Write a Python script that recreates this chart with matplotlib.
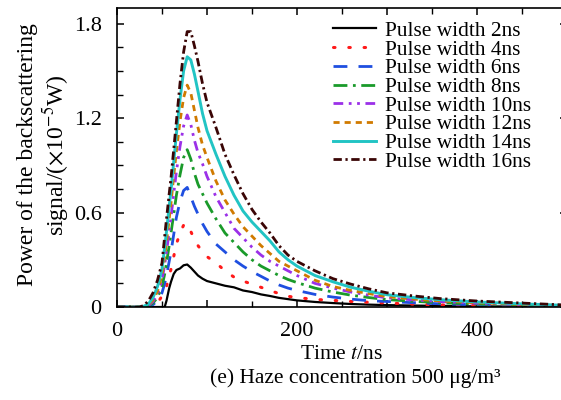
import numpy as np
import matplotlib
matplotlib.use('Agg')
import matplotlib.pyplot as plt
from matplotlib.ticker import MultipleLocator, FixedLocator, FuncFormatter

plt.rcParams['font.family'] = ['Liberation Serif', 'DejaVu Serif']
plt.rcParams['mathtext.fontset'] = 'stix'

# time axis (ns) and backscatter power (x1e-5 W)
t = [0, 25, 30, 35, 40, 45, 50, 53, 55, 58, 60, 63, 66, 70, 74, 78, 82, 86, 90, 95,
     100, 110, 120, 130, 140, 150, 160, 170, 180, 190, 200, 220, 240, 260, 280, 300,
     330, 360, 400, 450, 500]

p2 = [0, 0, 0, 0, 0, 0, 0, 0.0, 0.04, 0.12, 0.16, 0.21, 0.235, 0.245, 0.265, 0.27, 0.25, 0.225, 0.20, 0.18,
      0.165, 0.15, 0.135, 0.125, 0.105, 0.095, 0.08, 0.07, 0.058, 0.05, 0.042, 0.032, 0.025, 0.019, 0.015, 0.012,
      0.009, 0.007, 0.004, 0.003, 0.002]
p4 = [0, 0, 0, 0.002, 0.008, 0.025, 0.07, 0.1, 0.13, 0.2, 0.24, 0.32, 0.40, 0.47, 0.52, 0.53, 0.48, 0.43, 0.39, 0.35,
      0.32, 0.28, 0.23, 0.19, 0.165, 0.145, 0.125, 0.105, 0.085, 0.068, 0.06, 0.048, 0.042, 0.035, 0.03, 0.025,
      0.018, 0.013, 0.009, 0.005, 0.003]
p6 = [0, 0, 0.001, 0.004, 0.015, 0.04, 0.09, 0.15, 0.2, 0.29, 0.35, 0.46, 0.57, 0.67, 0.74, 0.76, 0.70, 0.64, 0.59, 0.53,
      0.48, 0.40, 0.35, 0.30, 0.26, 0.225, 0.195, 0.165, 0.14, 0.12, 0.105, 0.08, 0.063, 0.05, 0.04, 0.035,
      0.027, 0.02, 0.014, 0.009, 0.004]
p8 = [0, 0, 0.001, 0.006, 0.025, 0.06, 0.13, 0.21, 0.28, 0.39, 0.47, 0.59, 0.71, 0.84, 0.95, 1.0, 0.94, 0.85, 0.78, 0.72,
      0.66, 0.56, 0.47, 0.41, 0.35, 0.30, 0.26, 0.23, 0.20, 0.175, 0.155, 0.12, 0.095, 0.075, 0.06, 0.047,
      0.036, 0.027, 0.019, 0.012, 0.006]
p10 = [0, 0, 0.002, 0.01, 0.035, 0.08, 0.17, 0.27, 0.35, 0.48, 0.57, 0.72, 0.86, 1.02, 1.15, 1.22, 1.16, 1.06, 0.98, 0.91,
       0.83, 0.70, 0.60, 0.50, 0.44, 0.38, 0.33, 0.29, 0.26, 0.23, 0.20, 0.15, 0.12, 0.095, 0.075, 0.058,
       0.045, 0.034, 0.024, 0.015, 0.007]
p12 = [0, 0, 0.003, 0.015, 0.045, 0.1, 0.2, 0.32, 0.41, 0.56, 0.66, 0.83, 0.99, 1.18, 1.33, 1.41, 1.36, 1.25, 1.14, 1.03,
       0.95, 0.80, 0.68, 0.59, 0.51, 0.45, 0.39, 0.34, 0.29, 0.26, 0.23, 0.17, 0.13, 0.105, 0.085, 0.066,
       0.05, 0.038, 0.027, 0.017, 0.008]
p14 = [0, 0, 0.005, 0.02, 0.06, 0.13, 0.24, 0.38, 0.48, 0.64, 0.74, 0.92, 1.10, 1.32, 1.50, 1.59, 1.57, 1.48, 1.37, 1.23,
       1.12, 0.97, 0.83, 0.71, 0.61, 0.54, 0.48, 0.42, 0.35, 0.30, 0.26, 0.20, 0.16, 0.125, 0.10, 0.078,
       0.06, 0.046, 0.032, 0.02, 0.01]
p16 = [0, 0, 0.01, 0.04, 0.09, 0.17, 0.28, 0.45, 0.56, 0.72, 0.82, 1.0, 1.18, 1.42, 1.62, 1.75, 1.75, 1.66, 1.56, 1.42,
       1.30, 1.14, 0.97, 0.84, 0.72, 0.62, 0.54, 0.47, 0.39, 0.33, 0.29, 0.23, 0.18, 0.145, 0.115, 0.09,
       0.07, 0.053, 0.038, 0.025, 0.012]

labels = ['Pulse width 2ns', 'Pulse width 4ns', 'Pulse width 6ns', 'Pulse width 8ns',
          'Pulse width 10ns', 'Pulse width 12ns', 'Pulse width 14ns', 'Pulse width 16ns']
series = [p2, p4, p6, p8, p10, p12, p14, p16]
colors = ['black', '#ff1a1a', '#1f4fe0', '#1a9a2a', '#9b30e8', '#d07a00', '#22c4c4', '#3a0505']
styles = ['-', (0, (0.5, 4.5)), (0, (5, 4)), (0, (5, 2, 1, 2)), (0, (3.5, 2, 1, 2, 1, 2)),
          (0, (2.2, 1.8)), '-', (0, (3, 1.3, 0.8, 1.3))]
widths = [1.6, 2.2, 2.0, 2.0, 2.0, 2.0, 2.1, 2.0]

fig = plt.figure(figsize=(5.61, 4.0), dpi=100)
ax = fig.add_axes([117 / 561, 93 / 400, 450 / 561, 299 / 400])

for y, c, ls, lw, lab in zip(series, colors, styles, widths, labels):
    ax.plot(t, y, color=c, linestyle=ls, linewidth=lw, label=lab,
            dash_capstyle='round' if ls == styles[1] else 'butt')

ax.set_xlim(0, 500)
ax.set_ylim(0, 1.9)
ax.xaxis.set_major_locator(MultipleLocator(100))
ax.xaxis.set_minor_locator(MultipleLocator(50))
ax.xaxis.set_major_formatter(FuncFormatter(lambda v, p: '%d' % v if int(round(v)) % 200 == 0 else ''))
ax.yaxis.set_major_locator(FixedLocator([0, 0.6, 1.2, 1.8]))
ax.yaxis.set_minor_locator(MultipleLocator(0.15))
ax.set_yticklabels(['0', '0.6', '1.2', '1.8'])
ax.tick_params(which='both', direction='in', top=True, right=True, labelsize=16)
ax.tick_params(axis='x', pad=11)
ax.tick_params(axis='y', pad=11)
ax.tick_params(which='major', length=5, width=1.1)
ax.tick_params(which='minor', length=4, width=1.0)
for s in ax.spines.values():
    s.set_linewidth(1.2)

ax.set_xlabel('Time $t$/ns', fontsize=15.5, labelpad=3)
fig.text(44 / 561, 1 - 155 / 400, 'Power of the backscattering\nsignal/($\\times$10$^{-5}$W)',
         rotation=90, ha='center', va='center', fontsize=17, linespacing=1.12,
         multialignment='center')
fig.text(355 / 561, 1 - 378 / 400, '(e) Haze concentration 500 \u03bcg/m\u00b3',
         ha='center', va='center', fontsize=15.5)

ax.legend(loc='upper left', bbox_to_anchor=(333 / 561, 1 - 21 / 400),
          bbox_transform=fig.transFigure, frameon=False, fontsize=15.4,
          borderpad=0, borderaxespad=0, labelspacing=-0.06, handlelength=2.0,
          handletextpad=0.45)

fig.savefig('out.png', dpi=100)
